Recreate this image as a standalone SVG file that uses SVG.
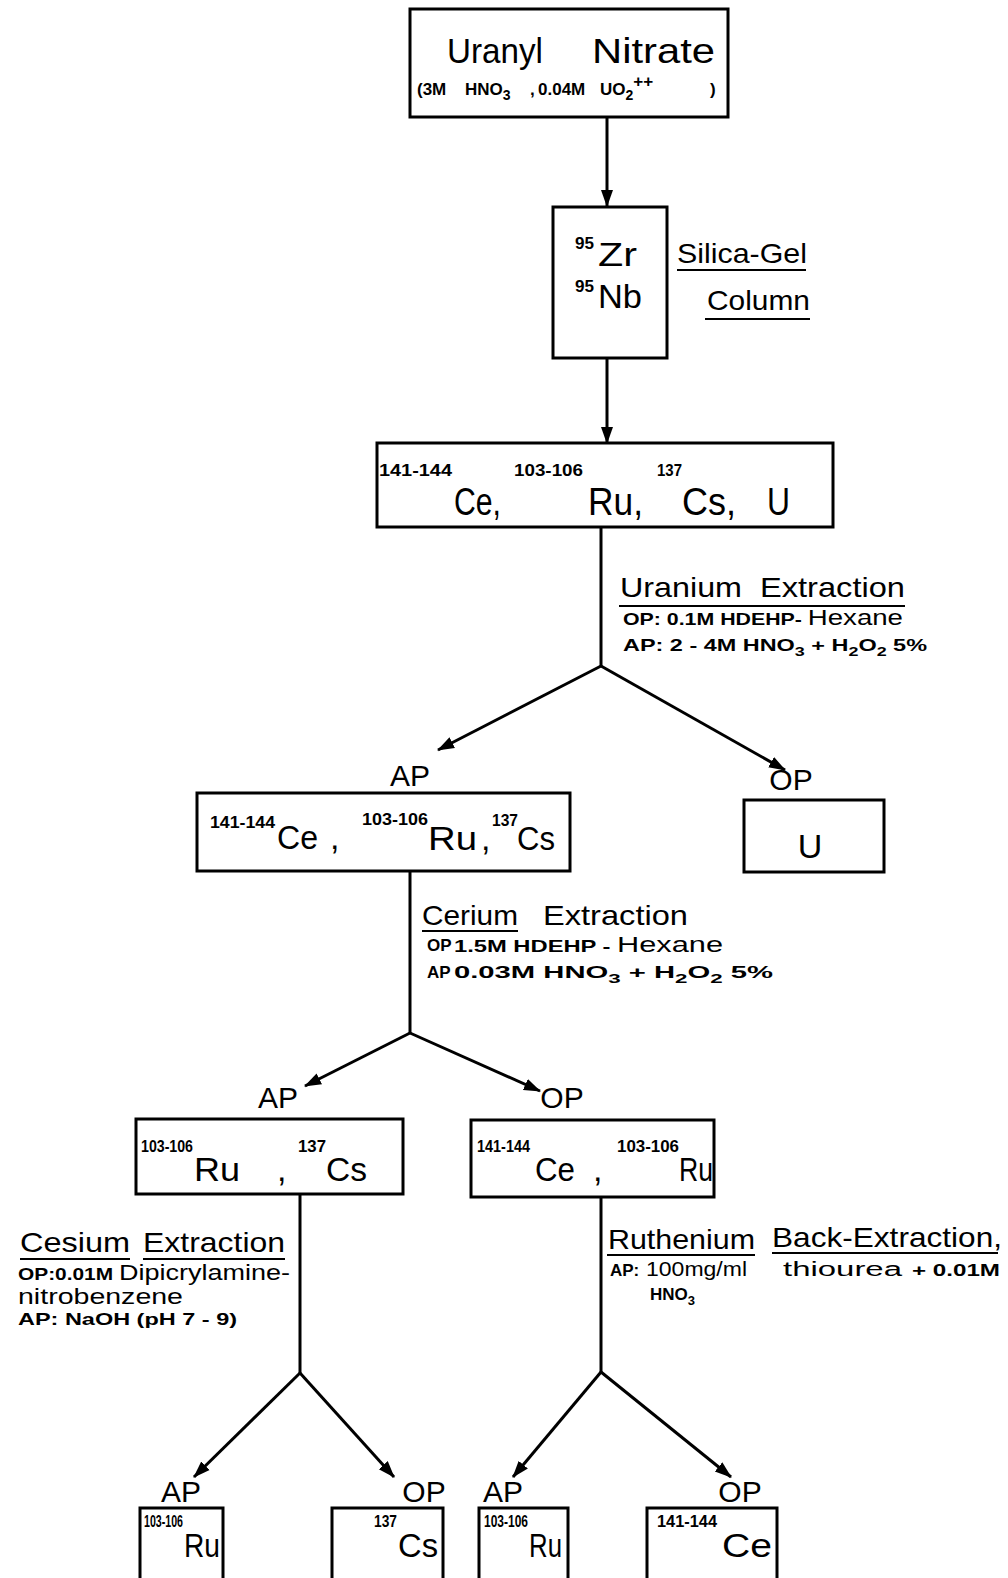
<svg xmlns="http://www.w3.org/2000/svg" width="1008" height="1578" viewBox="0 0 1008 1578">
<defs>
<marker id="ah" markerUnits="userSpaceOnUse" markerWidth="18" markerHeight="14" refX="16" refY="7" orient="auto">
<path d="M0,1 L17,7 L0,13 z" fill="#000"/>
</marker>
<style>
.box{fill:#fff;stroke:#000;stroke-width:3}
.ln{fill:none;stroke:#000;stroke-width:3}
text{font-family:"Liberation Sans",Arial,sans-serif;fill:#000}
.el{font-size:34px}
.el3{font-size:38px}
.sup{font-size:17px;font-weight:bold}
.lab{font-size:30px}
.hd{font-size:28px}
.sm{font-size:17px;font-weight:bold}
.md{font-size:22px}
.ul{stroke:#000;stroke-width:2}
</style>
</defs>
<rect width="1008" height="1578" fill="#fff"/>
<g id="connectors">
<path class="ln" d="M607,117 L607,206" marker-end="url(#ah)"/>
<path class="ln" d="M607,358 L607,443" marker-end="url(#ah)"/>
<path class="ln" d="M601,527 L601,666"/>
<path class="ln" d="M601,666 L438,750" marker-end="url(#ah)"/>
<path class="ln" d="M601,666 L785,770" marker-end="url(#ah)"/>
<path class="ln" d="M410,870 L410,1033"/>
<path class="ln" d="M410,1033 L305,1086" marker-end="url(#ah)"/>
<path class="ln" d="M410,1033 L540,1091" marker-end="url(#ah)"/>
<path class="ln" d="M300,1194 L300,1373"/>
<path class="ln" d="M300,1373 L194,1477" marker-end="url(#ah)"/>
<path class="ln" d="M300,1373 L394,1477" marker-end="url(#ah)"/>
<path class="ln" d="M601,1197 L601,1372"/>
<path class="ln" d="M601,1372 L513,1477" marker-end="url(#ah)"/>
<path class="ln" d="M601,1372 L731,1477" marker-end="url(#ah)"/>
</g>
<g id="n1">
<rect class="box" x="410" y="9" width="318" height="108"/>
<text x="447" y="63" font-size="35" textLength="96" lengthAdjust="spacingAndGlyphs">Uranyl</text>
<text x="592" y="63" font-size="35" textLength="123" lengthAdjust="spacingAndGlyphs">Nitrate</text>
<text class="sm" x="417" y="95">(3M</text>
<text class="sm" x="465" y="95">HNO<tspan font-size="14" dy="5">3</tspan></text>
<text class="sm" x="530" y="95">,</text>
<text class="sm" x="538" y="95">0.04M</text>
<text class="sm" x="600" y="95">UO<tspan font-size="14" dy="5">2</tspan><tspan dy="-13">++</tspan></text>
<text class="sm" x="710" y="95">)</text>
</g>
<g id="n2">
<rect class="box" x="553" y="207" width="114" height="151"/>
<text class="sup" x="575" y="249" textLength="19" lengthAdjust="spacingAndGlyphs">95</text>
<text class="el" x="598" y="266" font-size="32" textLength="39" lengthAdjust="spacingAndGlyphs">Zr</text>
<text class="sup" x="575" y="292" textLength="19" lengthAdjust="spacingAndGlyphs">95</text>
<text class="el" x="598" y="308" font-size="32" textLength="44" lengthAdjust="spacingAndGlyphs">Nb</text>
</g>
<g id="lbl-silica">
<text class="hd" x="677" y="263" textLength="130" lengthAdjust="spacingAndGlyphs">Silica-Gel</text>
<text class="hd" x="707" y="310" textLength="103" lengthAdjust="spacingAndGlyphs">Column</text>
<line class="ul" x1="677" y1="270" x2="806" y2="270"/>
<line class="ul" x1="705" y1="319" x2="810" y2="319"/>
</g>
<g id="n3">
<rect class="box" x="377" y="443" width="456" height="84"/>
<text class="sup" x="379" y="476" textLength="73" lengthAdjust="spacingAndGlyphs">141-144</text>
<text class="el3" x="454" y="515" textLength="47" lengthAdjust="spacingAndGlyphs">Ce,</text>
<text class="sup" x="514" y="476" textLength="69" lengthAdjust="spacingAndGlyphs">103-106</text>
<text class="el3" x="588" y="515" textLength="55" lengthAdjust="spacingAndGlyphs">Ru,</text>
<text class="sup" x="657" y="476" textLength="25" lengthAdjust="spacingAndGlyphs">137</text>
<text class="el3" x="682" y="515" textLength="54" lengthAdjust="spacingAndGlyphs">Cs,</text>
<text class="el3" x="767" y="515" textLength="23" lengthAdjust="spacingAndGlyphs">U</text>
</g>
<g id="lbl-uranium">
<text class="hd" x="620" y="597" textLength="122" lengthAdjust="spacingAndGlyphs">Uranium</text>
<text class="hd" x="760" y="597" textLength="145" lengthAdjust="spacingAndGlyphs">Extraction</text>
<line class="ul" x1="619" y1="606" x2="905" y2="606"/>
<text class="sm" x="623" y="625" textLength="280" lengthAdjust="spacingAndGlyphs">OP: 0.1M HDEHP- <tspan font-size="22" font-weight="normal">Hexane</tspan></text>
<text class="sm" x="623" y="651" textLength="304" lengthAdjust="spacingAndGlyphs">AP: 2 - 4M HNO<tspan font-size="13" dy="5">3</tspan><tspan dy="-5"> + H</tspan><tspan font-size="13" dy="5">2</tspan><tspan dy="-5">O</tspan><tspan font-size="13" dy="5">2</tspan><tspan dy="-5"> 5%</tspan></text>
</g>
<g id="n4">
<text class="lab" x="410" y="786" text-anchor="middle">AP</text>
<rect class="box" x="197" y="793" width="373" height="78"/>
<text class="sup" x="210" y="828" textLength="65" lengthAdjust="spacingAndGlyphs">141-144</text>
<text class="el" x="277" y="849" textLength="41" lengthAdjust="spacingAndGlyphs">Ce</text>
<text class="el" x="330" y="849">,</text>
<text class="sup" x="362" y="825" textLength="66" lengthAdjust="spacingAndGlyphs">103-106</text>
<text class="el" x="428" y="850" textLength="49" lengthAdjust="spacingAndGlyphs">Ru</text>
<text class="el" x="481" y="850">,</text>
<text class="sup" x="492" y="826" textLength="26" lengthAdjust="spacingAndGlyphs">137</text>
<text class="el" x="517" y="850" textLength="38" lengthAdjust="spacingAndGlyphs">Cs</text>
</g>
<g id="n5">
<text class="lab" x="791" y="790" text-anchor="middle">OP</text>
<rect class="box" x="744" y="800" width="140" height="72"/>
<text class="el" x="810" y="858" text-anchor="middle">U</text>
</g>
<g id="lbl-cerium">
<text class="hd" x="422" y="925" textLength="96" lengthAdjust="spacingAndGlyphs">Cerium</text>
<text class="hd" x="543" y="925" textLength="145" lengthAdjust="spacingAndGlyphs">Extraction</text>
<line class="ul" x1="422" y1="931" x2="518" y2="931"/>
<text class="sm" x="427" y="951" font-size="14">OP</text>
<text class="sm" x="454" y="952" textLength="269" lengthAdjust="spacingAndGlyphs">1.5M HDEHP - <tspan font-size="22" font-weight="normal">Hexane</tspan></text>
<text class="sm" x="427" y="978" font-size="14">AP</text>
<text class="sm" x="454" y="978" textLength="319" lengthAdjust="spacingAndGlyphs">0.03M  HNO<tspan font-size="13" dy="5">3</tspan><tspan dy="-5"> + H</tspan><tspan font-size="13" dy="5">2</tspan><tspan dy="-5">O</tspan><tspan font-size="13" dy="5">2</tspan><tspan dy="-5"> 5%</tspan></text>
</g>
<g id="n6">
<text class="lab" x="278" y="1108" text-anchor="middle">AP</text>
<rect class="box" x="136" y="1119" width="267" height="75"/>
<text class="sup" x="141" y="1152" textLength="52" lengthAdjust="spacingAndGlyphs">103-106</text>
<text class="el" x="194" y="1181" textLength="46" lengthAdjust="spacingAndGlyphs">Ru</text>
<text class="el" x="277" y="1181">,</text>
<text class="sup" x="298" y="1152" textLength="28" lengthAdjust="spacingAndGlyphs">137</text>
<text class="el" x="326" y="1181" textLength="41" lengthAdjust="spacingAndGlyphs">Cs</text>
</g>
<g id="n7">
<text class="lab" x="562" y="1108" text-anchor="middle">OP</text>
<rect class="box" x="471" y="1120" width="243" height="77"/>
<text class="sup" x="477" y="1152" textLength="53" lengthAdjust="spacingAndGlyphs">141-144</text>
<text class="el" x="535" y="1181" textLength="40" lengthAdjust="spacingAndGlyphs">Ce</text>
<text class="el" x="593" y="1181">,</text>
<text class="sup" x="617" y="1152" textLength="62" lengthAdjust="spacingAndGlyphs">103-106</text>
<text class="el" x="679" y="1181" textLength="34" lengthAdjust="spacingAndGlyphs">Ru</text>
</g>
<g id="lbl-cesium">
<text class="hd" x="20" y="1252" textLength="110" lengthAdjust="spacingAndGlyphs">Cesium</text>
<text class="hd" x="143" y="1252" textLength="142" lengthAdjust="spacingAndGlyphs">Extraction</text>
<line class="ul" x1="20" y1="1259" x2="130" y2="1259"/>
<line class="ul" x1="143" y1="1259" x2="285" y2="1259"/>
<text class="sm" x="18" y="1280" textLength="272" lengthAdjust="spacingAndGlyphs">OP:0.01M <tspan font-size="22" font-weight="normal">Dipicrylamine-</tspan></text>
<text class="md" x="18" y="1304" textLength="165" lengthAdjust="spacingAndGlyphs">nitrobenzene</text>
<text class="sm" x="18" y="1325" textLength="219" lengthAdjust="spacingAndGlyphs">AP:  NaOH (pH 7 - 9)</text>
</g>
<g id="lbl-ruthenium">
<text class="hd" x="608" y="1249" textLength="147" lengthAdjust="spacingAndGlyphs">Ruthenium</text>
<text class="hd" x="772" y="1247" textLength="230" lengthAdjust="spacingAndGlyphs">Back-Extraction,</text>
<line class="ul" x1="607" y1="1255" x2="755" y2="1255"/>
<line class="ul" x1="772" y1="1253" x2="998" y2="1253"/>
<text class="sm" x="610" y="1276" font-size="15">AP:</text>
<text x="646" y="1276" font-size="20" textLength="101" lengthAdjust="spacingAndGlyphs">100mg/ml</text>
<text x="783" y="1276" font-size="20" textLength="119" lengthAdjust="spacingAndGlyphs">thiourea</text>
<text class="sm" x="912" y="1276" font-size="15" textLength="88" lengthAdjust="spacingAndGlyphs">+ 0.01M</text>
<text class="sm" x="650" y="1300" font-size="15">HNO<tspan font-size="13" dy="5">3</tspan></text>
</g>
<g id="n8">
<text class="lab" x="181" y="1502" text-anchor="middle">AP</text>
<rect class="box" x="140" y="1508" width="83" height="72"/>
<text class="sup" x="144" y="1527" font-size="15" textLength="39" lengthAdjust="spacingAndGlyphs">103-106</text>
<text class="el" x="184" y="1557" font-size="32" textLength="36" lengthAdjust="spacingAndGlyphs">Ru</text>
</g>
<g id="n9">
<text class="lab" x="424" y="1502" text-anchor="middle">OP</text>
<rect class="box" x="332" y="1508" width="111" height="72"/>
<text class="sup" x="374" y="1527" font-size="15" textLength="23" lengthAdjust="spacingAndGlyphs">137</text>
<text class="el" x="398" y="1557" textLength="40" lengthAdjust="spacingAndGlyphs">Cs</text>
</g>
<g id="n10">
<text class="lab" x="503" y="1502" text-anchor="middle">AP</text>
<rect class="box" x="479" y="1508" width="89" height="72"/>
<text class="sup" x="484" y="1527" font-size="15" textLength="44" lengthAdjust="spacingAndGlyphs">103-106</text>
<text class="el" x="529" y="1557" font-size="32" textLength="33" lengthAdjust="spacingAndGlyphs">Ru</text>
</g>
<g id="n11">
<text class="lab" x="740" y="1502" text-anchor="middle">OP</text>
<rect class="box" x="647" y="1508" width="130" height="72"/>
<text class="sup" x="657" y="1527" font-size="15" textLength="60" lengthAdjust="spacingAndGlyphs">141-144</text>
<text class="el" x="722" y="1557" textLength="50" lengthAdjust="spacingAndGlyphs">Ce</text>
</g>
</svg>
